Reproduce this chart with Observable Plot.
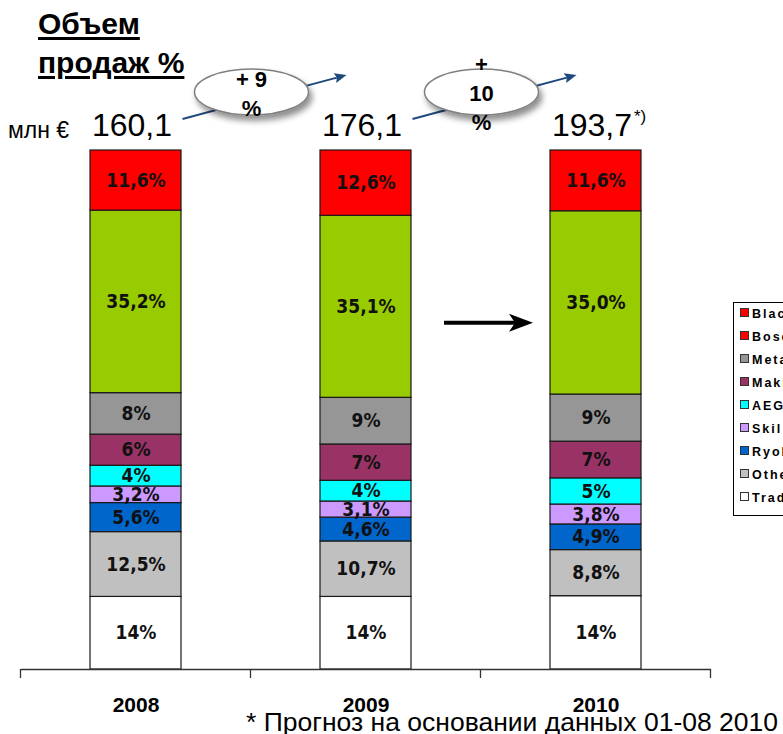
<!DOCTYPE html>
<html><head><meta charset="utf-8">
<script src="https://cdn.jsdelivr.net/npm/d3@7"></script>
<script src="https://cdn.jsdelivr.net/npm/@observablehq/plot@0.6"></script>
<style>
body{margin:0;background:#fff;overflow:hidden;}
#wrap{position:relative;width:783px;height:734px;overflow:hidden;font-family:"Liberation Sans",Arial,sans-serif;color:#000;}
#chart{position:absolute;left:0;top:0;}
.title{position:absolute;left:38px;top:4px;font-weight:bold;font-size:30px;line-height:39px;text-decoration:underline;text-decoration-thickness:3px;text-underline-offset:3px;white-space:nowrap;}
.unit{position:absolute;left:8px;top:117px;font-size:23px;white-space:nowrap;}
.legend{position:absolute;left:733px;top:302px;width:120px;height:212px;border:1px solid #000;background:#fff;}
.lrow{position:absolute;left:6px;height:15px;white-space:nowrap;font-weight:bold;font-size:12.5px;letter-spacing:2px;line-height:15px;}
.lsw{display:inline-block;width:7px;height:7px;border:1px solid #333;margin-right:3px;vertical-align:1px;letter-spacing:0;}
</style></head>
<body>
<div id="wrap">
  <div id="chart"></div>
  <div class="title">Объем<br>продаж %</div>
  <div class="unit">млн €</div>
  <div class="legend" id="legend"></div>
</div>
<script>
const years = ["2008", "2009", "2010"];
const totals = ["160,1", "176,1", "193,7"];
const totalNotes = ["", "", "*)"];
const growth = [["+ 9", "%"], ["+", "10", "%"]];
const footnote = "* Прогноз на основании данных 01-08 2010";

// stacking order: bottom to top
const series = ["Trade marks", "Others", "Ryobi", "Skil", "AEG", "Makita", "Metabo", "Bosch", "Black & Decker"];
const seriesColors = ["#ffffff", "#c0c0c0", "#0066cc", "#cc99ff", "#00ffff", "#993366", "#969696", "#99cc00", "#ff0000"];
const share2008 = ["14", "12,5", "5,6", "3,2", "4", "6", "8", "35,2", "11,6"];
const share2009 = ["14", "10,7", "4,6", "3,1", "4", "7", "9", "35,1", "12,6"];
const share2010 = ["14", "8,8", "4,9", "3,8", "5", "7", "9", "35,0", "11,6"];

const legendNames = ["Black & Decker", "Bosch", "Metabo", "Makita", "AEG", "Skil", "Ryobi", "Others", "Trade marks"];
const legendColors = ["#ff0000", "#ff0000", "#969696", "#993366", "#00ffff", "#cc99ff", "#0066cc", "#c0c0c0", "#ffffff"];

const shares = [share2008, share2009, share2010];
const rows = [];
years.forEach((yr, j) => shares[j].forEach((s, i) => rows.push({
  year: yr, series: series[i], value: parseFloat(s.replace(",", ".")), label: s + "%"
})));

const plot = Plot.plot({
  width: 783, height: 734,
  marginLeft: 21, marginRight: 72, marginTop: 150, marginBottom: 65,
  style: {fontFamily: "'Liberation Sans', Arial, sans-serif", background: "transparent", overflow: "visible", color: "#000"},
  x: {domain: years, paddingInner: 0.604, paddingOuter: 0.302, label: null},
  y: {axis: null, label: null},
  color: {domain: series, range: seriesColors},
  marks: [
    Plot.barY(rows, Plot.stackY({x: "year", y: "value", fill: "series", order: series, offset: "normalize", stroke: "#1a1a1a", strokeWidth: 1.2})),
    Plot.text(rows, Plot.stackY({x: "year", y: "value", z: "series", order: series, offset: "normalize", text: "label",
      fill: "#111", fontFamily: "'DejaVu Sans Condensed', 'DejaVu Sans', sans-serif", fontWeight: "bold", fontSize: 19})),
    Plot.ruleY([0], {stroke: "#333", strokeWidth: 1.3}),
    Plot.axisX({tickSize: 0, tickPadding: 28, fontSize: 21, fontWeight: "bold", fill: "#000", label: null}),
    Plot.text(years, {x: d => d, text: (d, i) => totals[i], frameAnchor: "top", lineAnchor: "bottom", dy: -15, dx: -4, fontSize: 32, fill: "#000"}),
    Plot.text(years, {x: d => d, text: (d, i) => totalNotes[i], frameAnchor: "top", lineAnchor: "bottom", dy: -29, dx: 38, textAnchor: "start", fontSize: 17, fill: "#000"})
  ]
});
document.getElementById("chart").appendChild(plot);

// decorations using Plot's scales
const svg = d3.select(plot);
const xs = plot.scale("x"), ys = plot.scale("y");
const step = xs.step ?? (xs.range[1] - xs.range[0]) / (years.length - 0.604 + 2 * 0.302);
const bw = xs.bandwidth ?? step * (1 - 0.604);
const cx = y => xs.apply(y) + bw / 2;
const y0 = ys.apply(0);

const defs = svg.append("defs");
const f = defs.append("filter").attr("id", "shadow").attr("x", "-30%").attr("y", "-30%").attr("width", "170%").attr("height", "180%");
f.append("feDropShadow").attr("dx", 3).attr("dy", 5).attr("stdDeviation", 3).attr("flood-color", "#000").attr("flood-opacity", 0.45);

// boundary ticks under the axis line
const bounds = years.map(y => cx(y) - step / 2).concat([cx(years[years.length - 1]) + step / 2]);
svg.append("g").selectAll("line").data(bounds).join("line")
  .attr("x1", d => d).attr("x2", d => d).attr("y1", y0).attr("y2", y0 + 9)
  .attr("stroke", "#333").attr("stroke-width", 1.3);

function arrow(g, x1, y1, x2, y2, color, width, len, half, notch) {
  const a = Math.atan2(y2 - y1, x2 - x1), c = Math.cos(a), s = Math.sin(a);
  const bx = x2 - len * c, by = y2 - len * s;
  g.append("line").attr("x1", x1).attr("y1", y1).attr("x2", bx + notch * c).attr("y2", by + notch * s)
    .attr("stroke", color).attr("stroke-width", width);
  const pts = [[x2, y2], [bx - half * s, by + half * c], [bx + notch * c, by + notch * s], [bx + half * s, by - half * c]];
  g.append("polygon").attr("points", pts.map(p => p.join(",")).join(" ")).attr("fill", color);
}

// growth callouts
const ga = svg.append("g");
growth.forEach((lines, k) => {
  const mx = (cx(years[k]) + cx(years[k + 1])) / 2;
  const cy = 92;
  arrow(ga, mx - 68, cy + 27, mx + 96, cy - 17, "#1f497d", 2, 12, 5, 2);
  ga.append("ellipse").attr("cx", mx + 1).attr("cy", cy).attr("rx", 57).attr("ry", 23)
    .attr("fill", "#fff").attr("stroke", "#7f7f7f").attr("stroke-width", 1.5).attr("filter", "url(#shadow)");
  lines.forEach((t, i) => {
    ga.append("text").attr("x", mx + 1).attr("y", cy + 9 + (i - (lines.length - 1) / 2) * 29)
      .attr("text-anchor", "middle").attr("font-weight", "bold").attr("font-size", 22).attr("fill", "#000").text(t);
  });
});

// black arrow between 2009 and 2010 bars
const by = ys.apply(0.667);
arrow(svg.append("g"), xs.apply("2009") + bw + 33, by, xs.apply("2010") - 17, by, "#000", 4, 24, 9, 6);

// footnote
svg.append("text").attr("x", 778).attr("y", 731).attr("text-anchor", "end")
  .attr("font-size", 26.5).attr("fill", "#000").text(footnote);

// legend (clipped at the right edge)
const lg = document.getElementById("legend");
legendNames.forEach((n, i) => {
  const r = document.createElement("div");
  r.className = "lrow";
  r.style.top = (4 + 23 * i) + "px";
  r.innerHTML = `<span class="lsw" style="background:${legendColors[i]}"></span>${n}`;
  lg.appendChild(r);
});
</script>
</body></html>
